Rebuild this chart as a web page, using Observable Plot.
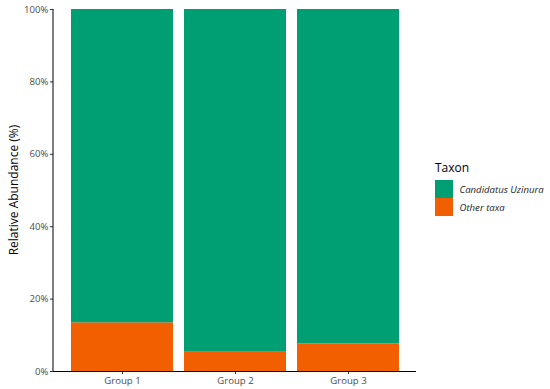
<!DOCTYPE html>
<html><head><meta charset="utf-8">
<script src="https://cdn.jsdelivr.net/npm/d3@7"></script>
<script src="https://cdn.jsdelivr.net/npm/@observablehq/plot@0.6"></script>
<style>
body{margin:0;background:#fff;font-family:"Open Sans",sans-serif;}
#wrap{position:relative;width:550px;height:389px;}
#legend{position:absolute;left:435px;top:160px;font-family:"Open Sans",sans-serif;}
#legend .t{font-size:12px;color:#000;margin-bottom:4px;line-height:16px;}
#legend .row{display:flex;align-items:center;height:18px;}
#legend .sw{width:17.5px;height:17.5px;margin-right:7px;}
#legend .lab{font-size:9.6px;font-style:italic;color:#1a1a1a;}
</style></head>
<body><div id="wrap"><div id="legend"></div></div>
<script>
const groups = ["Group 1","Group 2","Group 3"];
const taxa = ["Candidatus Uzinura","Other taxa"];
const colors = ["#009E73","#F25F00"];
const otherTaxa = [13.45, 5.5, 7.65];
const uzinura = otherTaxa.map(v => 100 - v);
const yTicks = [0,20,40,60,80,100];

const data = [];
groups.forEach((g,i)=>{
  data.push({group:g, taxon:"Other taxa", value:otherTaxa[i], order:0});
  data.push({group:g, taxon:"Candidatus Uzinura", value:uzinura[i], order:1});
});

const chart = Plot.plot({
  width:550, height:389,
  marginLeft:53, marginRight:134, marginTop:9, marginBottom:18,
  style:{fontFamily:"Open Sans, sans-serif", background:"#fff"},
  x:{domain:groups, paddingInner:0.1, paddingOuter:0.155, label:null},
  y:{domain:[0,100], ticks:yTicks, label:null},
  color:{domain:taxa, range:colors},
  marks:[
    Plot.barY(data, Plot.stackY({order:"order"}, {x:"group", y:"value", fill:"taxon"})),
    Plot.axisY({ticks:yTicks, tickFormat:d=>d+"%", tickSize:3, tickPadding:2, fontSize:9.6, fill:"#4d4d4d", stroke:"#333", label:null}),
    Plot.axisX({tickSize:3, tickPadding:3, fontSize:9.6, fill:"#4d4d4d", stroke:"#333", label:null}),
    Plot.ruleY([0], {stroke:"#000", strokeWidth:1})
  ]
});
const wrap = document.getElementById("wrap");
wrap.insertBefore(chart, wrap.firstChild);
const svg = d3.select(chart);
svg.append("line").attr("x1",53).attr("x2",53).attr("y1",9).attr("y2",371).attr("stroke","#000");
svg.append("text").attr("transform","translate(18,190) rotate(-90)").attr("text-anchor","middle")
  .attr("font-size",12).attr("fill","#000").text("Relative Abundance (%)");

const lg = d3.select("#legend");
lg.append("div").attr("class","t").text("Taxon");
taxa.forEach((t,i)=>{
  const r = lg.append("div").attr("class","row");
  r.append("div").attr("class","sw").style("background",colors[i]);
  r.append("div").attr("class","lab").text(t);
});
</script></body></html>
